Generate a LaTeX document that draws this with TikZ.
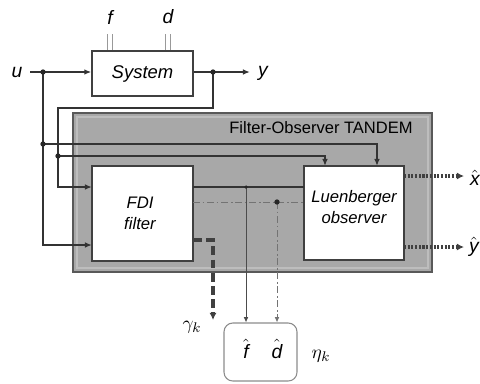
\documentclass[tikz,border=0pt]{standalone}
\usepackage{fontspec}
\setmainfont{Liberation Sans}
\usetikzlibrary{arrows.meta}
\begin{document}
\begin{tikzpicture}[x=0.02cm,y=-0.02cm,
  sig/.style={line width=0.8pt, draw=black!80},
  arr/.style={sig, -{Latex[length=4pt,width=3.2pt]}},
  thinarr/.style={line width=0.5pt, draw=black!70, -{Latex[length=3pt,width=2.6pt]}},
  dd/.style={line width=0.5pt, draw=black!55, dash pattern=on 4pt off 1.5pt on 1pt off 1.5pt},
  blk/.style={draw=black!75, line width=0.8pt, fill=white, inner sep=0pt},
  lbl/.style={font=\fontsize{11}{13}\selectfont\itshape, inner sep=0pt},
  jdot/.style={circle, fill=black!85, inner sep=0pt, minimum size=3pt},
  gam/.style={line width=1.8pt, draw=black!75, dash pattern=on 5pt off 2.5pt, -{Latex[length=4pt,width=4pt]}},
  outp/.style={line width=1.8pt, draw=black!75, dash pattern=on 1.2pt off 0.9pt, -{Latex[length=4pt,width=4pt]}},
  inarr/.style={draw=black!40, line width=0.5pt, double=white, double distance=2.2pt},
]
\useasboundingbox (0,0) rectangle (480,383);

% Filter-Observer TANDEM panel
\node[draw=black!65, line width=1pt, fill=black!34, minimum width=7.18cm, minimum height=3.18cm, inner sep=0pt] (tan) at (252.5,192.5) {};
\draw[black!26, line width=0.6pt] (77,117) rectangle (428,268);
\node[font=\fontsize{9.4}{11}\selectfont, inner sep=0pt] (tanT) at (321,128) {Filter-Observer TANDEM};

% System block
\node[blk, minimum width=2.02cm, minimum height=0.9cm, font=\fontsize{10.5}{12}\selectfont\itshape] (sys) at (142.5,73.5) {System};

% input labels
\node[lbl] (uL) at (17,72) {u};
\node[lbl] (yL) at (263,73) {y};
\node[lbl] (fL) at (110,17) {f};
\node[lbl] (dL) at (168,17) {d};
\coordinate (fin) at (110,34);
\coordinate (din) at (168,34);
\draw[inarr] (fin) -- (sys.north -| fin);
\draw[inarr] (din) -- (sys.north -| din);

% coordinates
\coordinate (us) at (30,72);
\coordinate (ye) at (250,72);
\coordinate (ju) at (43,72);
\coordinate (jy) at (213,72);
\coordinate (ju2) at (43,144);
\coordinate (jy2) at (58,156);
\coordinate (fu) at (92,245);
\coordinate (fy) at (92,187);
\coordinate (ou) at (377,166);
\coordinate (oy) at (325,166);
\coordinate (yb) at (213,108);
\coordinate (yc) at (58,187);

\draw[arr] (us) -- (sys.west |- us);
\draw[arr] (sys.east |- us) -- (ye);
\draw[arr] (ju) |- (fu);
\draw[arr] (ju2) -| (ou);
\draw[arr] (jy) -- (yb) -| (yc) -- (fy);
\draw[arr] (jy2) -| (oy);

% FDI filter and Luenberger observer
\node[blk, minimum width=2.02cm, minimum height=1.9cm] (fdi) at (142.5,213.5) {};
\node[font=\fontsize{9.5}{12}\selectfont\itshape, align=center, inner sep=0pt] (fdiT) at (140,213) {FDI\\filter};
\node[blk, minimum width=2.0cm, minimum height=1.88cm] (obs) at (354,213) {};
\node[font=\fontsize{9.5}{12}\selectfont\itshape, align=center, inner sep=0pt] (obsT) at (354,207) {Luenberger\\observer};

% residual lines between the blocks
\coordinate (r1a) at (193,187);
\coordinate (r1b) at (304,187);
\coordinate (r2a) at (193,202);
\coordinate (r2b) at (304,202);
\coordinate (jf) at (246,187);
\coordinate (jd) at (277,202);
\draw[sig, line width=0.6pt] (r1a) -- (r1b);
\draw[dd] (r2a) -- (r2b);

% eta block
\node[draw=black!45, line width=0.6pt, fill=white, rounded corners=5pt, minimum width=1.46cm, minimum height=1.16cm] (eta) at (260.5,352) {};
\node[lbl] (fh) at (246,349) {$\hat{\textit{f}}$};
\node[lbl] (dh) at (277,349) {$\hat{\textit{d}}$};
\node[inner sep=0pt, font=\fontsize{11}{13}\selectfont] (etaL) at (321,356) {$\eta_k$};

\draw[thinarr] (jf) -- (eta.north -| jf);
\draw[dd, -{Latex[length=3pt,width=2.6pt]}] (jd) -- (eta.north -| jd);

% gamma output
\coordinate (g1) at (193,240);
\coordinate (g2) at (213,320);
\draw[gam] (g1) -| (g2);
\node[inner sep=0pt, font=\fontsize{11}{13}\selectfont] (gamL) at (192,327) {$\gamma_k$};

% observer outputs
\coordinate (xo) at (404,176);
\coordinate (xe) at (464,176);
\coordinate (yo) at (404,247);
\coordinate (yee) at (464,247);
\draw[outp] (xo) -- (xe);
\draw[outp] (yo) -- (yee);
\node[lbl] (xh) at (475,178) {$\hat{\textit{x}}$};
\node[lbl] (yh) at (474,247) {$\hat{\textit{y}}$};

% junction dots
\foreach \p in {ju,jy,ju2,jy2,jd} \node[jdot] at (\p) {};
\node[jdot, minimum size=2pt] at (jf) {};
\end{tikzpicture}
\end{document}
